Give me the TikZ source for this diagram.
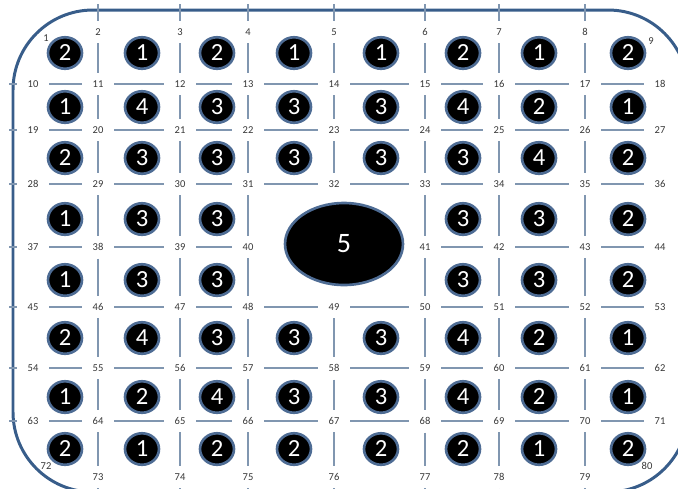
\documentclass[tikz,border=0pt]{standalone}
\usepackage{fontspec}
\setmainfont{Carlito}
\usetikzlibrary{shapes.geometric}
\definecolor{frameblue}{RGB}{56,93,138}
\definecolor{linegray}{RGB}{128,150,176}
\definecolor{numgray}{RGB}{55,55,55}
\definecolor{ballrim}{RGB}{78,108,148}
\tikzset{
  numlbl/.style={font=\fontsize{6}{7}\selectfont,text=numgray,inner xsep=0.21cm,inner ysep=0.15cm},
  gridline/.style={linegray,line width=0.8pt},
  ball/.style={ellipse,fill=black,draw=ballrim,line width=1.5pt,text=white,inner sep=0pt,
    minimum width=0.68cm,minimum height=0.63cm,font=\fontsize{14}{14}\selectfont},
  frame/.style={frameblue,line width=1.7pt,rounded corners=1.6cm}
}
\begin{document}
\begin{tikzpicture}[x=0.02cm,y=-0.02cm]
  \useasboundingbox (0,0) rectangle (678,488);
  \clip (0,0) rectangle (678,488);
  \draw[frame] (13,10) rectangle (688,492);
  % corner numbers
  \node[numlbl] (p00) at (46,38) {1};
  \node[numlbl] (p08) at (651,41) {9};
  \node[numlbl] (p80) at (46,466) {72};
  \node[numlbl] (p88) at (647,466) {80};
  % top and bottom numbers
  \foreach \c/\x in {1/98,2/180,3/248,4/334,5/425,6/499,7/585}{
    \pgfmathtruncatemacro\n{\c+1}
    \node[numlbl] (p0\c) at (\x,32) {\n};
    \pgfmathtruncatemacro\n{\c+72}
    \node[numlbl] (p8\c) at (\x,477) {\n};
  }
  % inner rows, no number under the 5
  \foreach \r/\y in {1/84,2/130,3/184,4/247,5/307,6/368,7/421}
    \foreach \c/\x in {0/33,1/98,2/180,3/248,4/334,5/425,6/499,7/585,8/660}{
      \pgfmathtruncatemacro\k{9*\r+\c}
      \pgfmathtruncatemacro\n{\k<40 ? \k+1 : \k}
      \ifnum\k=40 \else \node[numlbl] (p\r\c) at (\x,\y) {\n}; \fi
    }
  % grid lines, broken at the numbers
  \foreach \r in {1,...,7}
    \foreach \c in {0,...,7}{
      \pgfmathtruncatemacro\d{\c+1}
      \pgfmathtruncatemacro\hole{(\r==4)&&(\c>2)&&(\c<5)}
      \ifnum\hole=0 \draw[gridline] (p\r\c) -- (p\r\d); \fi
    }
  \foreach \c in {1,...,7}
    \foreach \r in {0,...,7}{
      \pgfmathtruncatemacro\d{\r+1}
      \pgfmathtruncatemacro\hole{(\c==4)&&(\r>2)&&(\r<5)}
      \ifnum\hole=0 \draw[gridline] (p\r\c) -- (p\d\c); \fi
    }
  % ticks across the frame
  \foreach \r/\y in {1/84,2/130,3/184,4/247,5/307,6/368,7/421}{
    \coordinate (w\r) at (9,\y);
    \draw[gridline] (w\r) -- (p\r0);
  }
  \foreach \c/\x in {1/98,2/180,3/248,4/334,5/425,6/499,7/585}{
    \coordinate (n\c) at (\x,4);
    \coordinate (s\c) at (\x,494);
    \draw[gridline] (n\c) -- (p0\c);
    \draw[gridline] (p8\c) -- (s\c);
  }
  % balls, 0 = none
  \foreach \r/\y/\vals in {1/53/{2,1,2,1,1,2,1,2},2/107/{1,4,3,3,3,4,2,1},
      3/158/{2,3,3,3,3,3,4,2},4/219/{1,3,3,0,0,3,3,2},5/280/{1,3,3,0,0,3,3,2},
      6/338/{2,4,3,3,3,4,2,1},7/397/{1,2,4,3,3,4,2,1},8/449/{2,1,2,2,2,2,1,2}}
    \foreach \v [count=\c] in \vals {
      \ifnum\v>0
        \pgfmathsetmacro\x{{65,142,217,294,381,463,539,628}[\c-1]}
        \node[ball] (b\r\c) at (\x,\y) {\v};
      \fi
    }
  % the big one in the middle
  \node[ball,minimum width=2.36cm,minimum height=1.64cm,font=\fontsize{16}{16}\selectfont] (b5) at (344,244) {5};
\end{tikzpicture}
\end{document}
